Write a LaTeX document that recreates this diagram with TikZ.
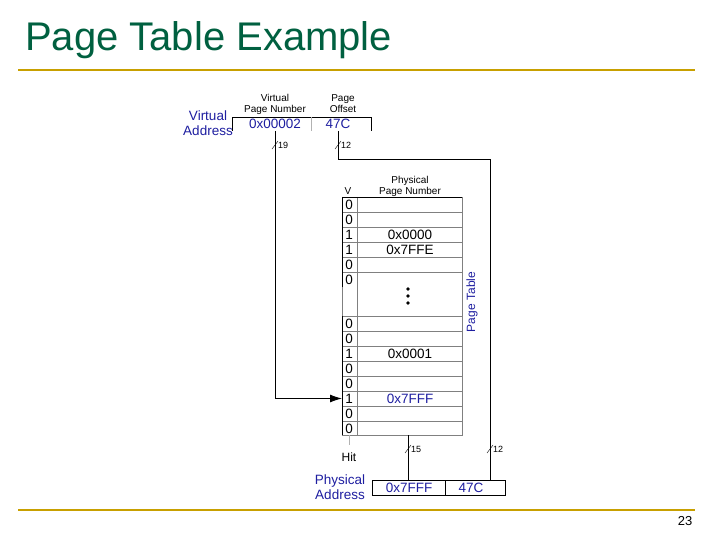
\documentclass[tikz,border=0pt]{standalone}
\usepackage{fontspec}
\setmainfont{Liberation Sans}
\usetikzlibrary{arrows.meta}
\begin{document}
\begin{tikzpicture}[x=1pt,y=-1pt,
  lbl/.style={inner sep=0pt,align=center,font=\fontsize{10}{11}\selectfont},
  blu/.style={inner sep=0pt,align=center,text={rgb,255:red,30;green,30;blue,160},font=\fontsize{13.5}{15}\selectfont},
  cell/.style={inner sep=0pt,font=\fontsize{13.5}{14}\selectfont},
  wire/.style={line width=1pt},
  slash/.style={line width=0.4pt}]
\useasboundingbox (0,0) rectangle (720,540);
\definecolor{gold}{RGB}{200,160,0}
\definecolor{ttl}{RGB}{0,96,64}
\node[anchor=west,inner sep=0pt,text=ttl,font=\fontsize{40}{42}\selectfont] (title) at (25,40) {Page Table Example};
\draw[gold,line width=2.2pt] (18,70) -- (695,70);
\draw[gold,line width=2.2pt] (18,510) -- (695,510);
\node[inner sep=0pt,font=\fontsize{13}{14}\selectfont] (pg) at (685,521) {23};
% virtual address
\node[lbl] (vpnl) at (275,104) {Virtual\\Page Number};
\node[lbl] (pol) at (343,104) {Page\\Offset};
\node[blu] (val) at (208,123) {Virtual\\Address};
\draw (232,131) -- (232,117) -- (371,117) -- (371,131);
\draw[gray!60] (311,117) -- (311,131);
\node[blu] (vpn) at (275,124) {0x00002};
\node[blu] (vo) at (338,124) {47C};
% table
\node[lbl] (vl) at (348,191) {V};
\node[lbl] (ppnl) at (410,186) {Physical\\Page Number};
\draw[gray] (342,197) rectangle (462,435);
\foreach \y in {212,227,242,257,272,316,331,346,361,376,391,406,421} \draw[gray] (342,\y) -- (462,\y);
\draw[gray] (357,197) -- (357,435);
\draw (342,197) -- (462,197) (342,197) -- (342,287) (342,316) -- (342,435);
\foreach \v [count=\i] in {0,0,1,1,0,0} \node[cell] (a\i) at (349,204.5+15*\i-15) {\v};
\foreach \v [count=\i] in {0,0,1,0,0,1,0,0} \node[cell] (b\i) at (349,323.5+15*\i-15) {\v};
\node[cell] (p3) at (410,234.5) {0x0000};
\node[cell] (p4) at (410,249.5) {0x7FFE};
\node[cell] (q3) at (410,353.5) {0x0001};
\node[cell,text={rgb,255:red,30;green,30;blue,160}] (q6) at (410,398.5) {0x7FFF};
\foreach \y in {289,296,303} \fill (408,\y) circle (1.8);
\node[blu,rotate=90,font=\fontsize{12}{13}\selectfont] (ptl) at (472,302) {Page Table};
% wires
\coordinate (arrtip) at (342,398.5);
\draw[wire,-{Latex[length=12pt,width=8pt]}] (275,131) -- (275,398.5) -- (arrtip);
\draw[wire] (338,131) -- (338,160) -- (490,160) -- (490,480);
\draw[wire] (408,435) -- (408,480);
\draw[gray!60] (349,435) -- (349,445);
\node[lbl,font=\fontsize{12}{13}\selectfont] (hit) at (349,457) {Hit};
% slashes
\foreach \x/\y/\t in {275/145/19,338/145/12,408/449/15,490/449/12}{
  \draw[slash] (\x-3,\y+4) -- (\x+3,\y-4);
  \node[lbl,font=\fontsize{9}{10}\selectfont,anchor=west] at (\x+3,\y) {\t};}
% physical address
\node[blu] (pal) at (340,487) {Physical\\Address};
\draw (372,480) rectangle (505,495);
\draw (445,480) -- (445,495);
\node[blu] (pp) at (409,488) {0x7FFF};
\node[blu] (po) at (471,488) {47C};
\end{tikzpicture}
\end{document}
